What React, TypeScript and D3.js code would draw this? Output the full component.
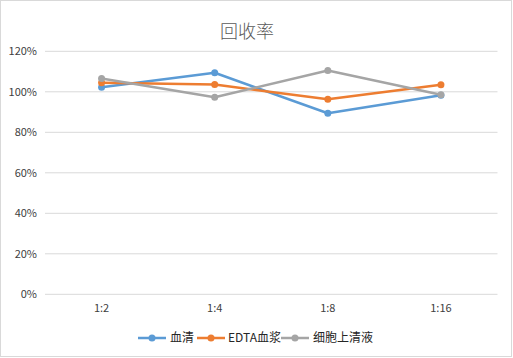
import React from "react";
import * as d3 from "d3";

const categories = ["1:2", "1:4", "1:8", "1:16"];
const seriesNames = ["血清", "EDTA血浆", "细胞上清液"];
const serum = [1.023, 1.094, 0.894, 0.983];
const edta = [1.045, 1.036, 0.963, 1.035];
const supernatant = [1.066, 0.973, 1.105, 0.985];
const colors = ["#5B9BD5", "#ED7D31", "#A5A5A5"];
const yTicks = [0, 0.2, 0.4, 0.6, 0.8, 1.0, 1.2];

const W = 513;
const H = 358;
const plotLeft = 45;
const plotRight = 497.5;
const yTop = 51.3;
const yBottom = 294.3;

export default function App() {
  const x = d3.scaleBand<string>().domain(categories).range([plotLeft, plotRight]);
  const y = d3.scaleLinear().domain([0, 1.2]).range([yBottom, yTop]);
  const cx = (c: string) => (x(c) as number) + x.bandwidth() / 2;
  const line = d3
    .line<number>()
    .x((_, i) => cx(categories[i]))
    .y((v) => y(v));
  const data = [serum, edta, supernatant];
  const fmt = d3.format(".0%");
  const font = "'Microsoft YaHei', 'Noto Sans CJK SC', 'DejaVu Sans', sans-serif";

  const legendItems = [
    { lineX: 138, textX: 170 },
    { lineX: 197, textX: 228 },
    { lineX: 281, textX: 313 },
  ];

  return (
    <svg
      width={W}
      height={H}
      style={{ position: "absolute", left: 0, top: 0, background: "#fff" }}
      fontFamily={font}
    >
      <rect x={0.5} y={0.5} width={W - 2} height={H - 2} fill="#fff" stroke="#D9D9D9" />
      <text x={247} y={38} textAnchor="middle" fontSize={18} fill="#595959" fontWeight={300}>
        回收率
      </text>
      {yTicks.map((t) => (
        <g key={t}>
          <line x1={plotLeft} x2={plotRight} y1={y(t)} y2={y(t)} stroke="#D9D9D9" strokeWidth={1} />
          <text x={37} y={y(t)} dy="0.35em" textAnchor="end" fontSize={11} fill="#404040">
            {fmt(t)}
          </text>
        </g>
      ))}
      {categories.map((c) => (
        <text key={c} x={cx(c)} y={308} dy="0.35em" textAnchor="middle" fontSize={11} fill="#404040">
          {c}
        </text>
      ))}
      {data.map((s, k) => (
        <g key={k}>
          <path d={line(s) || ""} fill="none" stroke={colors[k]} strokeWidth={2.5} strokeLinejoin="round" />
          {s.map((v, i) => (
            <circle key={i} cx={cx(categories[i])} cy={y(v)} r={3.5} fill={colors[k]} />
          ))}
        </g>
      ))}
      {seriesNames.map((n, k) => (
        <g key={n}>
          <line
            x1={legendItems[k].lineX}
            x2={legendItems[k].lineX + 28}
            y1={338}
            y2={338}
            stroke={colors[k]}
            strokeWidth={2.5}
          />
          <circle cx={legendItems[k].lineX + 14} cy={338} r={3.5} fill={colors[k]} />
          <text x={legendItems[k].textX} y={338} dy="0.35em" fontSize={12} fill="#262626">
            {n}
          </text>
        </g>
      ))}
    </svg>
  );
}
